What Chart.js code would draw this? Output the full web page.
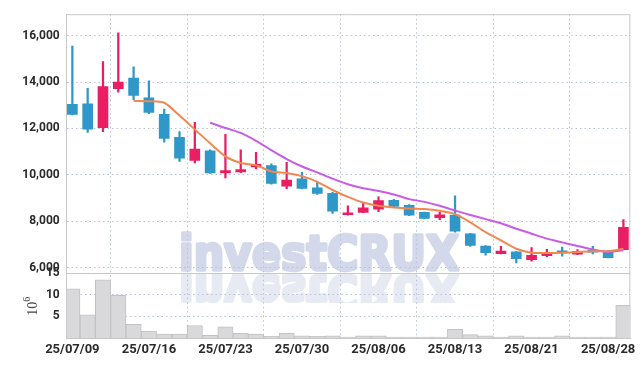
<!DOCTYPE html>
<html>
<head>
    <title>investCRUX candles</title>
    <script src="https://cdn.jsdelivr.net/npm/chart.js"></script>
    <style>
        html, body { margin: 0; padding: 0; background: #fff; }
        #wrap { width: 644px; height: 366px; }
    </style>
</head>
<body>
    <div id="wrap"><canvas id="candleChart" width="644" height="366"></canvas></div>

    <script>
        const dates = ['25/07/09', '25/07/10', '25/07/11', '25/07/14', '25/07/15', '25/07/16', '25/07/17', '25/07/18',
            '25/07/21', '25/07/22', '25/07/23', '25/07/24', '25/07/25', '25/07/28', '25/07/29', '25/07/30',
            '25/07/31', '25/08/01', '25/08/04', '25/08/05', '25/08/06', '25/08/07', '25/08/08', '25/08/11',
            '25/08/12', '25/08/13', '25/08/14', '25/08/18', '25/08/19', '25/08/20', '25/08/21', '25/08/22',
            '25/08/25', '25/08/26', '25/08/27', '25/08/28', '25/08/29'];

        const opens  = [13034, 13064, 12030, 13715, 14170, 13319, 12609, 11617, 10626, 11034, 10085, 10128, 10340,
            10396, 9519, 9830, 9447, 9204, 8285, 8383, 8524, 8906, 8694, 8383, 8157, 8268, 7460, 6936, 6609,
            6681, 6353, 6523, 6723, 6583, 6736, 6723, 6779];
        const highs  = [15545, 13732, 14881, 16115, 14651, 14055, 12838, 11860, 12268, 11077, 11745, 11077, 10966,
            10481, 10540, 10115, 9702, 9250, 8668, 8779, 9051, 8950, 8720, 8400, 8383, 9094, 7480, 6960, 6923,
            6700, 6864, 6794, 6894, 6779, 6923, 6750, 8072];
        const lows   = [12580, 11830, 11860, 13562, 13234, 12638, 11404, 10583, 10511, 10060, 9872, 10100, 10255,
            9600, 9404, 9400, 9162, 8340, 8270, 8370, 8413, 8600, 8240, 8100, 8072, 7532, 6923, 6540, 6600,
            6213, 6285, 6481, 6498, 6560, 6596, 6420, 6779];
        const closes = [12609, 11970, 13800, 14000, 13417, 12694, 11574, 10723, 11106, 10085, 10183, 10226, 10455,
            9630, 9774, 9417, 9204, 8438, 8340, 8583, 8894, 8638, 8268, 8128, 8285, 7574, 6966, 6651, 6723,
            6396, 6540, 6651, 6638, 6709, 6668, 6438, 7745];

        // 5일선 / 10일선
        const ma5 = [null, null, null, null, 13179, 13170, 13106, 12553, 11957, 11362, 10796, 10511, 10413, 10149,
            10085, 9945, 9702, 9349, 9051, 8809, 8668, 8596, 8553, 8532, 8455, 8311, 7957, 7532, 7179, 6821,
            6651, 6638, 6651, 6681, 6711, 6711, 6821];
        const ma10 = [null, null, null, null, null, null, null, null, null, 12243, 12017, 11809, 11468, 11064,
            10681, 10362, 10106, 9838, 9596, 9421, 9306, 9157, 8957, 8838, 8668, 8460, 8272, 8094, 7915, 7681,
            7468, 7255, 7094, 6936, 6787, 6681, 6753];

        // 거래량 (백만)
        const volumes = [11.4, 5.4, 13.5, 9.9, 3.2, 1.6, 0.9, 0.9, 2.9, 0.6, 2.6, 1.1, 0.9, 0.4, 1.1, 0.5, 0.4,
            0.5, 0.2, 0.5, 0.5, 0.2, 0.2, 0.2, 0.2, 2.0, 0.8, 0.5, 0.2, 0.5, 0.2, 0.2, 0.5, 0.2, 0.2, 0.2, 7.6];

        const priceTicks = [6000, 8000, 10000, 12000, 14000, 16000];
        const volumeTicks = [5, 10, 15];
        const dateTicks = [0, 5, 10, 15, 20, 25, 30, 35];

        const UP = '#e91e63';
        const DOWN = '#2f98c9';
        const GRID = '#b9c0da';

        const candleColors = closes.map((c, i) => c >= opens[i] ? UP : DOWN);
        const bodies = opens.map((o, i) => ({ x: i, y: [o, closes[i]] }));
        const wicks = lows.map((l, i) => ({ x: i, y: [l, highs[i]] }));
        const toPoints = arr => arr.map((v, i) => ({ x: i, y: v })).filter(p => p.y !== null);

        const watermark = {
            id: 'watermark',
            beforeDraw(chart) {
                const c = chart.ctx;
                const text = 'investCRUX';
                c.save();
                c.font = 'bold 48px "DejaVu Sans"';
                const w = c.measureText(text).width;
                const sx = 280 / w;
                c.textBaseline = 'alphabetic';
                c.textAlign = 'left';
                c.lineJoin = 'round';
                // 본문
                c.save();
                c.translate(179, 270);
                c.scale(sx, 1);
                c.fillStyle = '#d3d9eb';
                c.strokeStyle = '#d3d9eb';
                c.lineWidth = 3.5;
                c.strokeText(text, 0, 0);
                c.fillText(text, 0, 0);
                c.restore();
                // 반사
                c.save();
                c.beginPath();
                c.rect(0, 273, 644, 30);
                c.clip();
                c.translate(179, 275);
                c.scale(sx, -1);
                c.fillStyle = '#e7eaf3';
                c.strokeStyle = '#e7eaf3';
                c.lineWidth = 3.5;
                c.strokeText(text, 0, 0);
                c.fillText(text, 0, 0);
                c.restore();
                c.restore();
            }
        };

        const frame = {
            id: 'frame',
            beforeDatasetsDraw(chart) {
                const c = chart.ctx;
                const a = chart.chartArea;
                const sep = chart.scales.y.bottom;
                c.save();
                c.strokeStyle = '#c8c8c8';
                c.lineWidth = 1;
                c.beginPath();
                c.moveTo(a.left, a.top + 0.5);
                c.lineTo(a.right - 0.5, a.top + 0.5);
                c.lineTo(a.right - 0.5, a.bottom);
                c.moveTo(a.left, Math.round(sep) + 0.5);
                c.lineTo(a.right, Math.round(sep) + 0.5);
                c.stroke();
                c.restore();
            },
            afterDraw(chart) {
                // 거래량 축 단위 10^6
                const c = chart.ctx;
                const yv = chart.scales.yv;
                c.save();
                c.translate(37, (yv.top + yv.bottom) / 2 + 2);
                c.rotate(-Math.PI / 2);
                c.fillStyle = '#444';
                c.textBaseline = 'alphabetic';
                c.font = '14px "Liberation Serif"';
                c.fillText('10', -8, 0);
                c.font = '10px "Liberation Serif"';
                c.fillText('6', 6, -7);
                c.restore();
            }
        };

        const tickFont = { family: 'Roboto', size: 12, weight: 'bold' };

        const config = {
            type: 'bar',
            data: {
                datasets: [
                    {
                        type: 'line',
                        data: toPoints(ma5),
                        borderColor: '#f0884f',
                        borderWidth: 2,
                        pointRadius: 0,
                        tension: 0.25,
                        yAxisID: 'y',
                        order: 0
                    },
                    {
                        type: 'line',
                        data: toPoints(ma10),
                        borderColor: '#c95ce6',
                        borderWidth: 2,
                        pointRadius: 0,
                        tension: 0.25,
                        yAxisID: 'y',
                        order: 0
                    },
                    {
                        data: bodies,
                        backgroundColor: candleColors,
                        barThickness: 10,
                        minBarLength: 2,
                        grouped: false,
                        yAxisID: 'y',
                        order: 1
                    },
                    {
                        data: wicks,
                        backgroundColor: candleColors,
                        barThickness: 1.6,
                        grouped: false,
                        yAxisID: 'y',
                        order: 2
                    },
                    {
                        data: volumes.map((v, i) => ({ x: i, y: v })),
                        backgroundColor: '#d9d9db',
                        borderColor: '#c2c2c6',
                        borderWidth: 1,
                        categoryPercentage: 1,
                        barPercentage: 1,
                        grouped: false,
                        yAxisID: 'yv',
                        order: 3
                    }
                ]
            },
            options: {
                responsive: false,
                animation: false,
                layout: { padding: { left: 0, top: 9, right: 13.7, bottom: 0 } },
                plugins: {
                    legend: { display: false },
                    tooltip: { enabled: false }
                },
                scales: {
                    x: {
                        type: 'linear',
                        offset: false,
                        min: -0.37,
                        max: 36.45,
                        afterBuildTicks: s => { s.ticks = dateTicks.map(v => ({ value: v })); },
                        afterFit: s => { s.height = 28; },
                        ticks: {
                            callback: v => dates[v],
                            autoSkip: false,
                            maxRotation: 0,
                            padding: 4,
                            color: '#2b2b2b',
                            font: { family: 'Roboto', size: 13, weight: 'bold' }
                        },
                        grid: { color: GRID, drawTicks: false },
                        border: { display: true, color: '#c8c8c8', dash: [1.5, 3] }
                    },
                    y: {
                        type: 'linear',
                        position: 'left',
                        stack: 'panel',
                        stackWeight: 263.3,
                        weight: 2,
                        min: 5760,
                        max: 16920,
                        afterBuildTicks: s => { s.ticks = priceTicks.map(v => ({ value: v })); },
                        afterFit: s => { s.width = 66.7; },
                        ticks: {
                            callback: v => v.toLocaleString('en-US'),
                            padding: 7,
                            color: '#2b2b2b',
                            font: tickFont
                        },
                        grid: { color: GRID, drawTicks: false },
                        border: { display: true, color: '#c8c8c8', dash: [1.5, 3] }
                    },
                    yv: {
                        type: 'linear',
                        position: 'left',
                        stack: 'panel',
                        stackWeight: 65.7,
                        weight: 1,
                        min: 0,
                        max: 15,
                        afterBuildTicks: s => { s.ticks = volumeTicks.map(v => ({ value: v })); },
                        afterFit: s => { s.width = 66.7; },
                        ticks: {
                            padding: 7,
                            color: '#2b2b2b',
                            font: tickFont
                        },
                        grid: { color: GRID, drawTicks: false },
                        border: { display: true, color: '#c8c8c8', dash: [1.5, 3] }
                    }
                }
            },
            plugins: [watermark, frame]
        };

        const candleChart = new Chart(document.getElementById('candleChart'), config);
    </script>
</body>
</html>
